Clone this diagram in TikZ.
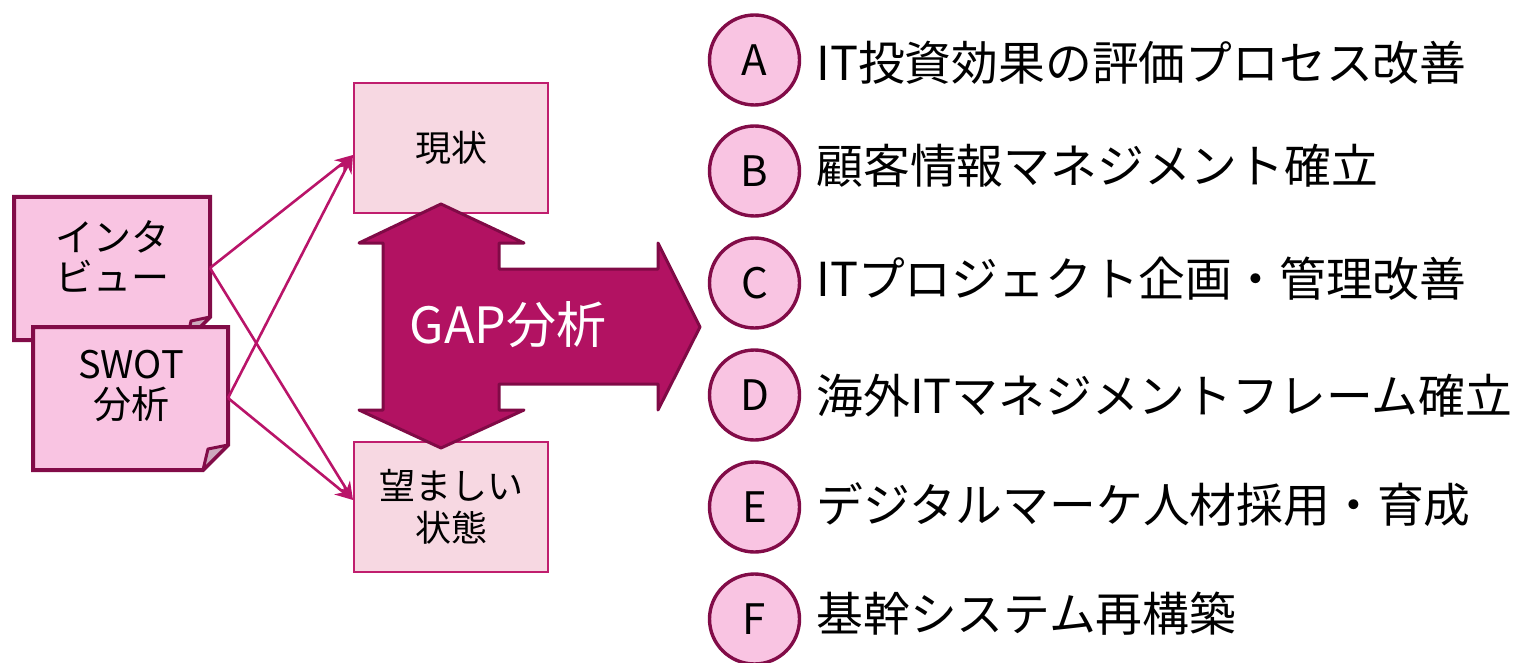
\documentclass[tikz,border=0pt]{standalone}
\usepackage{fontspec}
\setmainfont{Noto Sans CJK JP}
\usetikzlibrary{arrows.meta,backgrounds,calc}
\definecolor{stickyfill}{RGB}{249,196,226}
\definecolor{stickydraw}{RGB}{130,12,72}
\definecolor{boxfill}{RGB}{247,216,226}
\definecolor{boxdraw}{RGB}{192,30,110}
\definecolor{gapfill}{RGB}{178,18,98}
\definecolor{gapdraw}{RGB}{128,10,70}
\definecolor{conncol}{RGB}{185,20,105}
\definecolor{flapcol}{RGB}{205,170,190}
\tikzset{
  stickytext/.style={align=center,font=\fontsize{19pt}{20pt}\selectfont,inner sep=0pt},
  statebox/.style={draw=boxdraw,fill=boxfill,line width=1pt,minimum width=97pt,minimum height=65pt,align=center,font=\fontsize{18pt}{21pt}\selectfont,inner sep=0pt},
  conn/.style={draw=conncol,line width=1.3pt,-{Stealth[length=9pt,width=7.5pt]}},
  letter/.style={circle,draw=stickydraw,fill=stickyfill,line width=1.7pt,minimum size=45pt,inner sep=0pt,font=\fontsize{21pt}{21pt}\selectfont},
  item/.style={anchor=west,inner sep=0pt,font=\fontsize{23.4pt}{26pt}\selectfont},
  gapshape/.style={fill=gapfill,draw=gapdraw,line width=1.5pt,line join=round},
  stickyshape/.style={fill=stickyfill,draw=stickydraw,line width=2pt,line join=miter},
  flapshape/.style={fill=flapcol,draw=stickydraw,line width=1.5pt,line join=round}
}
\begin{document}
\begin{tikzpicture}[x=0.5pt,y=-0.5pt]
\useasboundingbox (0,0) rectangle (1524,663);
% sticky notes
\path[stickyshape] (14,197) -- (210,197) -- (210,317) -- (187,340) -- (14,340) -- cycle;
\path[flapshape] (210,317) -- (191,321) -- (187,340) -- cycle;
\node[stickytext] (iv) at (112,256) {インタ\\ビュー};
\path[stickyshape] (33,327) -- (228,327) -- (228,445) -- (203,470) -- (33,470) -- cycle;
\path[flapshape] (228,445) -- (208,449) -- (203,470) -- cycle;
\node[stickytext] (sw) at (131,386) {SWOT\\分析};
\coordinate (ive) at (210,268);
\coordinate (swe) at (228,398);
% state boxes
\node[statebox] (now) at (451,148) {現状};
\node[statebox] (goal) at (451,507) {望ましい\\状態};
% connectors
\draw[conn] (ive) -- ([yshift=-3.5pt]now.west);
\draw[conn] (ive) -- ([yshift=3.5pt]goal.west);
\draw[conn] (swe) -- ([yshift=-3.5pt]now.west);
\draw[conn] (swe) -- ([yshift=3.5pt]goal.west);
% GAP arrow
\path[gapshape] (441,204) -- (524,243) -- (499,243) -- (499,269) -- (658,269) -- (658,243)
  -- (700,327) -- (658,410) -- (658,384) -- (499,384) -- (499,410) -- (524,410)
  -- (441,448) -- (359,410) -- (383,410) -- (383,243) -- (359,243) -- cycle;
\node[text=white,inner sep=0pt,font=\fontsize{25pt}{25pt}\selectfont] (gap) at (508,325) {GAP分析};
% list
\node[letter] (a) at (754.5,60) {A};
\node[letter] (b) at (754.5,171) {B};
\node[letter] (c) at (754.5,283) {C};
\node[letter] (d) at (754.5,395) {D};
\node[letter] (e) at (754.5,507) {E};
\node[letter] (f) at (754.5,619) {F};
\node[item] (ta) at (816,63) {IT投資効果の評価プロセス改善};
\node[item] (tb) at (816,166) {顧客情報マネジメント確立};
\node[item] (tc) at (816,279) {ITプロジェクト企画・管理改善};
\node[item] (td) at (816,396) {海外ITマネジメントフレーム確立};
\node[item] (te) at (816,505) {デジタルマーケ人材採用・育成};
\node[item] (tf) at (816,614) {基幹システム再構築};
\end{tikzpicture}
\end{document}
